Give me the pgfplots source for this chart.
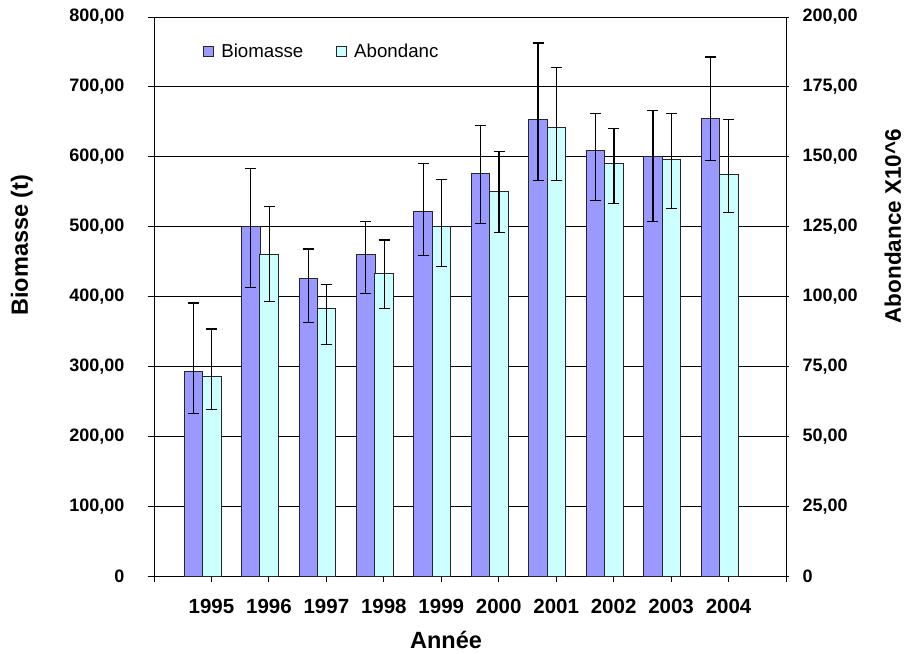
\documentclass[border=0pt]{standalone}
\usepackage{fontspec}
\setmainfont{Liberation Sans}
\usepackage{pgfplots}
\pgfplotsset{compat=1.18}
\definecolor{bio}{HTML}{9999FF}
\definecolor{abo}{HTML}{CCFFFF}

\pgfplotsset{
  common/.style={
    scale only axis, width=632pt, height=559pt,
    xmin=0, xmax=11, ymin=0,
    ybar, bar width=0.322,
    axis line style={line width=0.9pt, black},
    every tick/.style={line width=0.9pt, black},
    major tick length=6pt,
    yticklabel style={font=\bfseries\fontsize{18}{18}\selectfont},
    xticklabel style={font=\bfseries\fontsize{20.5}{20.5}\selectfont, yshift=-14pt},
    error bars/error bar style={line width=1.2pt, black},
    error bars/error mark options={line width=1.2pt, black, mark size=5.5pt, rotate=90},
  },
  sq/.style={legend image code/.code={\draw[##1, line width=0.8pt] (0pt,-5pt) rectangle (10pt,5pt);}},
}

\begin{document}
\begin{tikzpicture}
\begin{axis}[common,
  ymax=800,
  ytick={0,100,...,800},
  yticklabels={0,{100,00},{200,00},{300,00},{400,00},{500,00},{600,00},{700,00},{800,00}},
  yticklabel style={xshift=-20pt},
  ytick pos=left, xtick pos=left, tick align=outside,
  xtick={0,...,11},
  xticklabels={{},1995,1996,1997,1998,1999,2000,2001,2002,2003,2004,{}},
  ymajorgrids, grid style={line width=0.8pt, black},
  ylabel={Biomasse (t)}, xlabel={Année},
  ylabel style={at={(axis description cs:-0.209,0.592)}, anchor=center, rotate=0,
    font=\bfseries\fontsize{23.5}{23.5}\selectfont},
  xlabel style={at={(axis description cs:0.462,-0.114)}, anchor=center,
    font=\bfseries\fontsize{23.5}{23.5}\selectfont},
  legend style={at={(axis description cs:0.078,0.939)}, anchor=west, draw=none, fill=none,
    font=\fontsize{18.7}{18.7}\selectfont, legend columns=2, inner sep=0pt,
    /tikz/every odd column/.append style={column sep=5pt},
    /tikz/every even column/.append style={column sep=31pt}},
]
\coordinate (O) at (rel axis cs:0,0);
\addplot[sq, fill=bio, draw=black!85, line width=0.9pt, bar shift=-0.315,
  error bars/.cd, y dir=both, y explicit]
  coordinates {
  (1,292.6) += (0,98.2) -= (0,59.6)
  (2,500.3) += (0,82.5) -= (0,87.2)
  (3,426.0) += (0,42.0) -= (0,63.4)
  (4,460.8) += (0,46.2) -= (0,56.7)
  (5,522.3) += (0,67.6) -= (0,63.9)
  (6,576.6) += (0,67.6) -= (0,72.5)
  (7,653.2) += (0,109.7) -= (0,87.6)
  (8,609.5) += (0,52.3) -= (0,72.5)
  (9,600.9) += (0,65.2) -= (0,93.9)
  (10,655.2) += (0,87.6) -= (0,61.0)
  };
\addlegendentry{Biomasse}
\addlegendimage{sq, fill=abo, draw=black!85}
\addlegendentry{Abondanc}
\end{axis}

\begin{axis}[common,
  ymax=200,
  axis x line=none, axis y line*=right,
  ytick={0,25,...,200},
  yticklabels={0,{25,00},{50,00},{75,00},{100,00},{125,00},{150,00},{175,00},{200,00}},
  yticklabel style={xshift=10pt},
  tick align=center,
  ylabel={Abondance X10\^{}6},
  ylabel style={at={(axis description cs:1.169,0.626)}, anchor=center, rotate=0,
    font=\bfseries\fontsize{22.5}{22.5}\selectfont},
]
\addplot[fill=abo, draw=black!85, line width=0.9pt, bar shift=0.005,
  error bars/.cd, y dir=both, y explicit]
  coordinates {
  (1,71.5) += (0,16.9) -= (0,12.0)
  (2,115.2) += (0,16.9) -= (0,16.9)
  (3,95.6) += (0,8.7) -= (0,12.7)
  (4,108.2) += (0,12.0) -= (0,12.6)
  (5,125.1) += (0,16.9) -= (0,14.3)
  (6,137.6) += (0,14.2) -= (0,14.8)
  (7,160.6) += (0,21.3) -= (0,19.2)
  (8,147.5) += (0,12.5) -= (0,14.3)
  (9,149.0) += (0,16.5) -= (0,17.5)
  (10,143.7) += (0,19.6) -= (0,13.7)
  };
\end{axis}
\pgfresetboundingbox
\path (O) ++(-154pt,-77pt) rectangle ++(904pt,653pt);
\end{tikzpicture}
\end{document}
